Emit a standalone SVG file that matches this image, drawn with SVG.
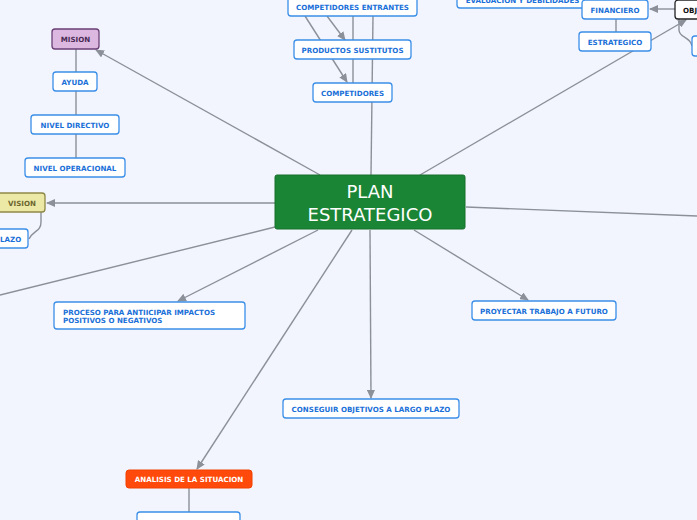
<svg xmlns="http://www.w3.org/2000/svg" width="697" height="520" viewBox="0 0 697 520">
<style>
.bg{fill:#f2f5fd}
.c{fill:none;stroke:#8b9099;stroke-width:1.4}
.b{fill:#ffffff;stroke:#3a8ee8;stroke-width:1.3}
.t{font-family:"DejaVu Sans",Verdana,sans-serif;font-weight:bold;font-size:7.1px;fill:#1a6fd8;text-anchor:middle}
.tl{text-anchor:start}
</style>
<defs>
<marker id="ar" markerWidth="9" markerHeight="8" refX="8" refY="4" orient="auto" markerUnits="userSpaceOnUse">
<path d="M0,0 L9,4 L0,8 Z" fill="#8b9099"/>
</marker>
</defs>
<rect class="bg" x="0" y="0" width="697" height="520"/>
<g id="connectors">
<line class="c" x1="320" y1="175" x2="96" y2="50" marker-end="url(#ar)"/>
<line class="c" x1="275" y1="203" x2="47" y2="203" marker-end="url(#ar)"/>
<line class="c" x1="275" y1="227" x2="0" y2="295"/>
<line class="c" x1="318" y1="230" x2="178" y2="301" marker-end="url(#ar)"/>
<line class="c" x1="352" y1="230" x2="197" y2="469" marker-end="url(#ar)"/>
<line class="c" x1="370" y1="230" x2="371" y2="398" marker-end="url(#ar)"/>
<line class="c" x1="414" y1="230" x2="528" y2="300" marker-end="url(#ar)"/>
<line class="c" x1="466" y1="207" x2="697" y2="216"/>
<line class="c" x1="420" y1="175" x2="686" y2="20" marker-end="url(#ar)"/>
<line class="c" x1="371" y1="175" x2="373" y2="16"/>
<line class="c" x1="353" y1="16" x2="353" y2="83"/>
<line class="c" x1="305" y1="16" x2="347" y2="82" marker-end="url(#ar)"/>
<line class="c" x1="327" y1="16" x2="345" y2="40" marker-end="url(#ar)"/>
<line class="c" x1="76" y1="49" x2="76" y2="158"/>
<line class="c" x1="616" y1="19" x2="616" y2="32"/>
<line class="c" x1="675" y1="9" x2="650" y2="9" marker-end="url(#ar)"/>
<path class="c" d="M679,19 V30 C679,38 690,36 692,46"/>
<path class="c" d="M41,212 V222 C41,232 33,230 29,239"/>
<line class="c" x1="189" y1="488" x2="189" y2="512"/>
</g>
<g id="center">
<rect x="275" y="175" width="190" height="54" rx="2" fill="#1a8535" stroke="#14702b" stroke-width="1"/>
<text x="370" y="198" font-family="DejaVu Sans,Verdana,sans-serif" font-size="18" fill="#ffffff" text-anchor="middle">PLAN</text>
<text x="370" y="221" font-family="DejaVu Sans,Verdana,sans-serif" font-size="18" fill="#ffffff" text-anchor="middle">ESTRATEGICO</text>
</g>
<g id="competidores-entrantes"><rect class="b" x="288" y="-4" width="129" height="20" rx="3"/><text class="t" x="352.5" y="10">COMPETIDORES ENTRANTES</text></g>
<g id="productos-sustitutos"><rect class="b" x="294" y="40" width="117" height="19" rx="3"/><text class="t" x="352.5" y="52.5">PRODUCTOS SUSTITUTOS</text></g>
<g id="competidores"><rect class="b" x="313" y="83" width="79" height="19" rx="3"/><text class="t" x="352.5" y="95.5">COMPETIDORES</text></g>
<g id="evaluacion"><rect class="b" x="457" y="-12" width="131" height="20" rx="3"/><text class="t" x="522.5" y="2.5">EVALUACION  Y DEBILIDADES</text></g>
<g id="financiero"><rect class="b" x="582" y="0" width="66" height="19" rx="3"/><text class="t" x="615" y="12.5">FINANCIERO</text></g>
<g id="estrategico"><rect class="b" x="579" y="32" width="72" height="19" rx="3"/><text class="t" x="615" y="44.5">ESTRATEGICO</text></g>
<g id="obj"><rect x="675" y="0" width="34" height="19" rx="3" fill="#ffffff" stroke="#222222" stroke-width="1.3"/><text class="t tl" x="683" y="12.5" style="fill:#111111">OBJ</text></g>
<g id="obj-child"><rect class="b" x="692" y="36" width="20" height="20" rx="3"/></g>
<g id="mision"><rect x="52" y="29" width="47" height="20" rx="3" fill="#dcb8e1" stroke="#6a3f75" stroke-width="1.3"/><text class="t" x="75.5" y="42" style="fill:#4a2a55">MISION</text></g>
<g id="ayuda"><rect class="b" x="53" y="72" width="44" height="19" rx="3"/><text class="t" x="75" y="84.5">AYUDA</text></g>
<g id="nivel-directivo"><rect class="b" x="31" y="115" width="88" height="19" rx="3"/><text class="t" x="75" y="127.5">NIVEL DIRECTIVO</text></g>
<g id="nivel-operacional"><rect class="b" x="25" y="158" width="100" height="19" rx="3"/><text class="t" x="75" y="170.5">NIVEL OPERACIONAL</text></g>
<g id="vision"><rect x="-4" y="193" width="49" height="19" rx="3" fill="#ece8a5" stroke="#8e8848" stroke-width="1.3"/><text class="t" x="22" y="205.5" style="fill:#6b662f">VISION</text></g>
<g id="plazo"><rect class="b" x="-30" y="229" width="58" height="19" rx="3"/><text class="t tl" x="0" y="241.5">LAZO</text></g>
<g id="proceso"><rect class="b" x="54" y="302" width="191" height="27" rx="3"/><text class="t tl" x="63" y="314.5">PROCESO PARA ANTIICIPAR IMPACTOS</text><text class="t tl" x="63" y="323">POSITIVOS O NEGATIVOS</text></g>
<g id="proyectar"><rect class="b" x="472" y="301" width="144" height="19" rx="3"/><text class="t" x="544" y="313.5">PROYECTAR TRABAJO A FUTURO</text></g>
<g id="conseguir"><rect class="b" x="283" y="399" width="176" height="19" rx="3"/><text class="t" x="371" y="411.5">CONSEGUIR OBJETIVOS A LARGO PLAZO</text></g>
<g id="analisis"><rect x="126" y="470" width="126" height="18" rx="3" fill="#ff4a0c" stroke="#f04000" stroke-width="1"/><text class="t" x="189" y="482" style="fill:#ffffff">ANALISIS DE LA SITUACION</text></g>
<g id="analisis-child"><rect class="b" x="137" y="512" width="103" height="20" rx="3"/></g>
</svg>
